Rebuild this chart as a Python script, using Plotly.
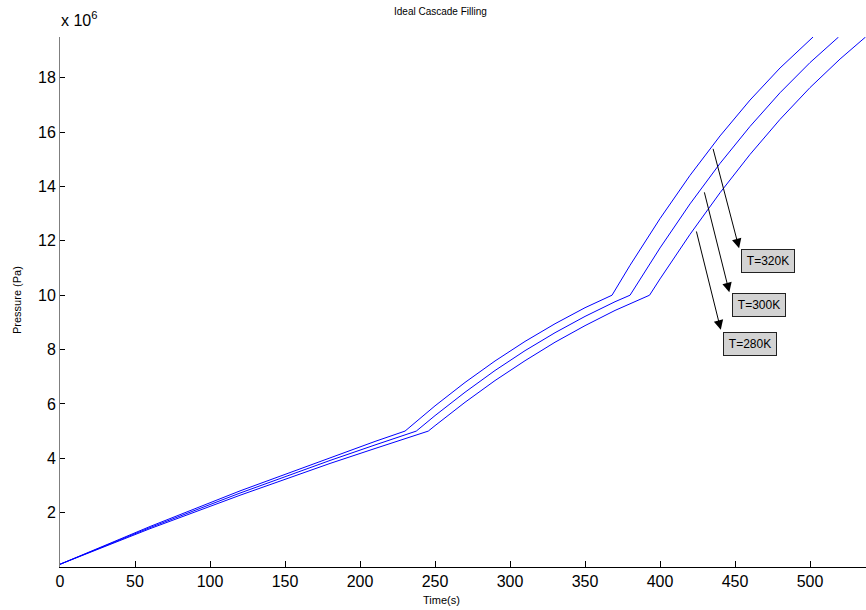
import plotly.graph_objects as go

# Time (s) and pressure (x 10^6 Pa)
time_320 = [0, 60, 120, 180, 210, 230, 250, 270, 290, 310, 330, 350, 368,
            380, 400, 420, 440, 460, 480, 502]
p_320 = [0.10, 1.49, 2.80, 4.03, 4.62, 5.00, 5.93, 6.79, 7.58, 8.30, 8.95, 9.54, 10.00,
         11.10, 12.82, 14.41, 15.86, 17.18, 18.36, 19.50]

time_300 = [0, 60, 120, 180, 210, 237.5, 250, 270, 290, 310, 330, 350, 370, 380,
            400, 420, 440, 460, 480, 500, 519]
p_300 = [0.10, 1.45, 2.72, 3.92, 4.49, 5.00, 5.57, 6.43, 7.23, 7.96, 8.62, 9.22, 9.76, 10.00,
         11.74, 13.36, 14.85, 16.21, 17.45, 18.56, 19.50]

time_280 = [0, 60, 120, 180, 210, 245.5, 250, 270, 290, 310, 330, 350, 370, 393,
            400, 420, 440, 460, 480, 500, 520, 537]
p_280 = [0.10, 1.41, 2.64, 3.81, 4.36, 5.00, 5.20, 6.06, 6.86, 7.59, 8.27, 8.88, 9.44, 10.00,
         10.60, 12.24, 13.77, 15.18, 16.47, 17.64, 18.69, 19.50]

series_labels = ["T=320K", "T=300K", "T=280K"]
x_ticks = [0, 50, 100, 150, 200, 250, 300, 350, 400, 450, 500]
y_ticks = [2, 4, 6, 8, 10, 12, 14, 16, 18]

FONT = "Liberation Sans, Arial, sans-serif"

fig = go.Figure()
for t, p, name in [(time_320, p_320, series_labels[0]),
                   (time_300, p_300, series_labels[1]),
                   (time_280, p_280, series_labels[2])]:
    fig.add_trace(go.Scatter(x=t, y=p, mode="lines", name=name,
                             line=dict(color="#0000ff", width=1)))

# label layout: (arrow tail on curve, arrow tip, box centre)
label_layout = [
    ((435.1, 15.44), (452.7, 11.73), (471.7, 11.25)),
    ((429.3, 13.84), (446.2, 10.11), (466.1, 9.65)),
    ((424.0, 12.40), (440.5, 8.73), (460.2, 8.19)),
]

annotations = []
for name, (tail, tip, box) in zip(series_labels, label_layout):
    annotations.append(dict(x=tip[0], y=tip[1], ax=tail[0], ay=tail[1],
                            xref="x", yref="y", axref="x", ayref="y",
                            text="", showarrow=True, arrowhead=2, arrowsize=1.9,
                            arrowwidth=1, arrowcolor="black", standoff=0, startstandoff=0))
    annotations.append(dict(x=box[0], y=box[1], xref="x", yref="y", text=name,
                            xanchor="center", yanchor="middle",
                            showarrow=False, bgcolor="#d3d3d3", bordercolor="#222222",
                            borderwidth=1, borderpad=2, width=48, height=18,
                            font=dict(family=FONT, size=12, color="black")))

text_labels = [
    dict(x=440, y=12, text="Ideal Cascade Filling", size=10, angle=0, xanchor="center"),
    dict(x=441, y=600, text="Time(s)", size=11, angle=0, xanchor="center"),
    dict(x=17, y=300, text="Pressure (Pa)", size=11, angle=-90, xanchor="center"),
    dict(x=59, y=19, text="x 10<sup>6</sup>", size=16, angle=0, xanchor="left"),
]

W, H = 866, 610
L, R, T, B = 60, 0, 37, 43
pw, ph = W - L - R, H - T - B
for lab in text_labels:
    annotations.append(dict(
        xref="paper", yref="paper",
        x=(lab["x"] - L) / pw, y=(H - B - lab["y"]) / ph,
        text=lab["text"], textangle=lab["angle"], showarrow=False,
        xanchor=lab["xanchor"], yanchor="middle",
        font=dict(family=FONT, size=lab["size"], color="black")))

fig.update_layout(
    width=W, height=H,
    margin=dict(l=L, r=R, t=T, b=B, pad=0),
    paper_bgcolor="white", plot_bgcolor="white",
    showlegend=False,
    font=dict(family=FONT, color="black"),
    annotations=annotations,
    xaxis=dict(range=[0, 537.3], tickvals=x_ticks, ticks="inside", ticklen=6,
               tickcolor="black", showline=True, linecolor="black", linewidth=1,
               showgrid=False, zeroline=False, tickfont=dict(size=16, family=FONT, color="black")),
    yaxis=dict(range=[0, 19.5], tickvals=y_ticks, ticks="inside", ticklen=5,
               tickcolor="black", showline=True, linecolor="#7f7f7f", linewidth=1,
               showgrid=False, zeroline=False, tickfont=dict(size=16, family=FONT, color="black")),
)

fig.write_html("out.html", config={"displayModeBar": False},
               post_script="document.body.style.margin='0px';")
